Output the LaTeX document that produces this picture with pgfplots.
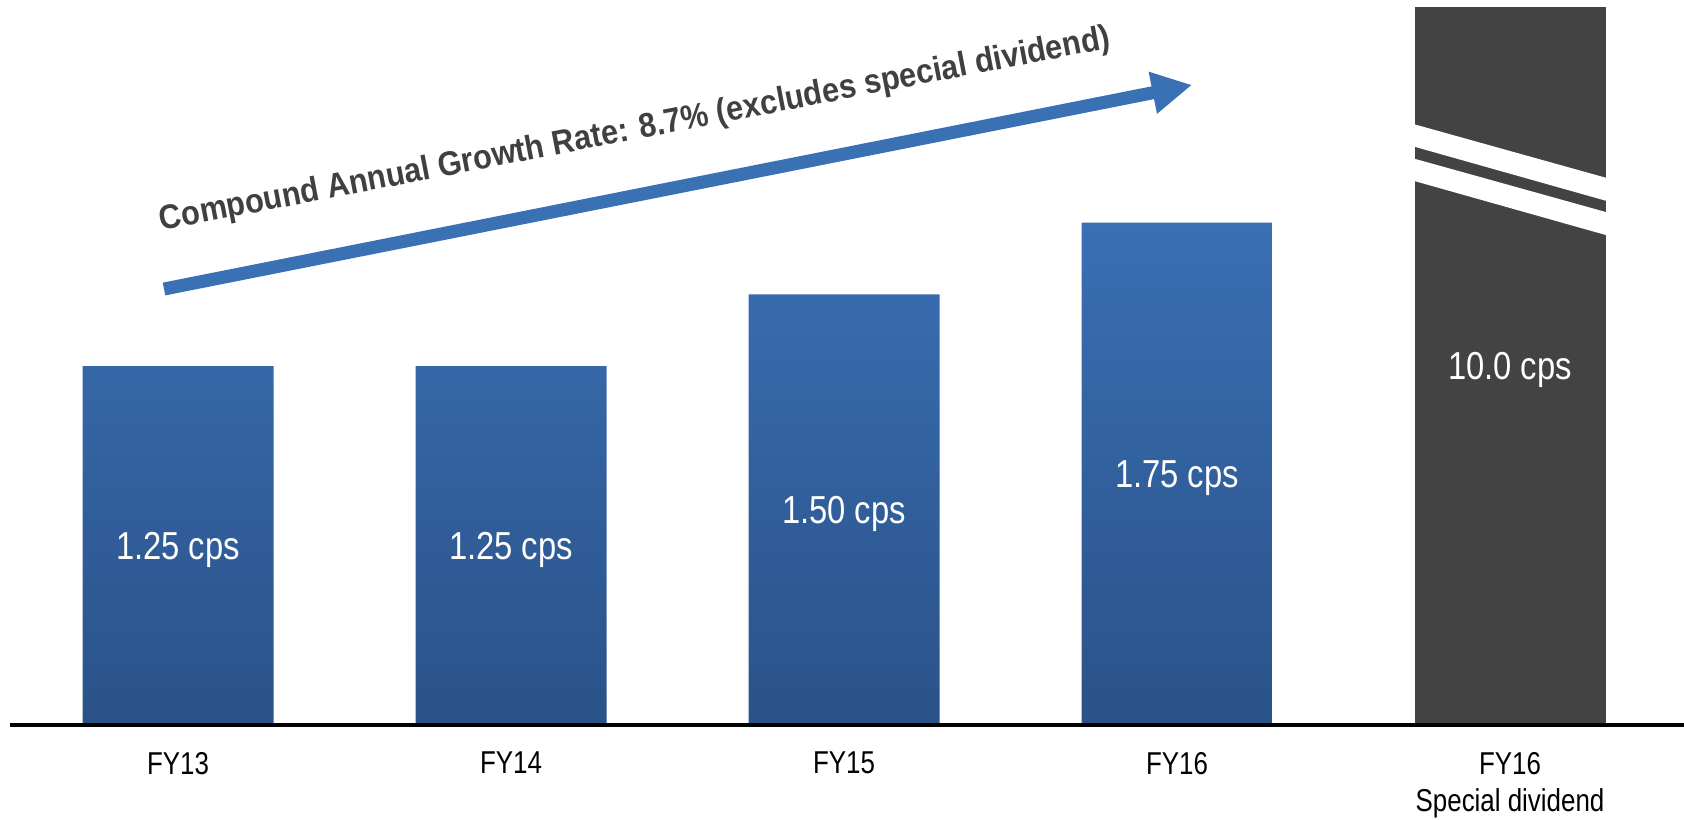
\documentclass[border=0pt]{standalone}
\usepackage{fontspec}
\setmainfont{Liberation Sans}[FakeStretch=0.82]
\newfontfamily\titlefont{Liberation Sans}[FakeStretch=0.9]
\newfontfamily\labelfont{Liberation Sans}[FakeStretch=0.84]
\usepackage{pgfplots}
\pgfplotsset{compat=1.18}
\usetikzlibrary{arrows.meta}
\definecolor{bartop}{RGB}{58,111,180}
\definecolor{barbot}{RGB}{42,82,136}
\definecolor{special}{RGB}{67,67,67}
\definecolor{arrowblue}{RGB}{58,112,180}
\definecolor{titlegray}{RGB}{64,64,64}
\begin{document}
\begin{tikzpicture}
\path[use as bounding box] (-5pt,-47pt) rectangle (837pt,362.5pt);
\begin{axis}[
  at={(0pt,0pt)}, anchor=south west,
  scale only axis, width=837pt, height=362.5pt,
  xmin=-0.5045, xmax=4.5225, ymin=0, ymax=2.526,
  axis line style={draw=none},
  xtick={0,1,2,3,4},
  xticklabels={FY13,FY14,FY15,FY16,{FY16\\Special dividend}},
  xticklabel style={anchor=north, inner sep=0pt, outer sep=0pt, yshift=-13.5pt,
    align=center, font=\fontsize{15.8}{18.5}\selectfont, text=black},
  major tick length=0pt,
  ytick=\empty,
  clip=false,
]
\addplot[ybar, bar width=95.5pt, bar shift=0pt, draw=none,
  top color=bartop, bottom color=barbot]
  coordinates {(0,1.25) (1,1.25) (2,1.50) (3,1.75)};
\addplot[ybar, bar width=95.5pt, bar shift=0pt, draw=none, fill=special]
  coordinates {(4,2.50)};
% axis break on the special-dividend bar
\fill[white] (axis cs:3.70,2.0970) -- (axis cs:4.30,1.9028) -- (axis cs:4.30,1.8226) -- (axis cs:3.70,2.0190) -- cycle;
\fill[white] (axis cs:3.70,1.9772) -- (axis cs:4.30,1.7833) -- (axis cs:4.30,1.7031) -- (axis cs:3.70,1.8995) -- cycle;
% value labels
\addplot[draw=none, mark=none, nodes near coords, point meta=explicit symbolic,
  nodes near coords style={anchor=center, text=white, inner sep=0pt,
    font=\labelfont\fontsize{19.5}{21}\selectfont, text height=13.6pt, text depth=0pt}]
  coordinates {(0,0.625)[1.25 cps] (1,0.625)[1.25 cps] (2,0.75)[1.50 cps] (3,0.875)[1.75 cps] (4,1.25)[10.0 cps]};
% baseline
\draw[black, line width=1.9pt] (axis cs:-0.5045,0) -- (axis cs:4.5225,0);
% growth arrow
\draw[arrowblue, line width=6.5pt, -{Triangle[length=20pt,width=20pt]}]
  (axis cs:-0.042,1.519) -- (axis cs:3.045,2.230);
\node[anchor=base west, rotate=10.9, inner sep=0pt, text=titlegray,
  font=\titlefont\bfseries\fontsize{17.1}{18}\selectfont]
  at (axis cs:-0.050,1.722) {Compound Annual Growth Rate: 8.7\% (excludes special dividend)};
\end{axis}
\end{tikzpicture}
\end{document}
